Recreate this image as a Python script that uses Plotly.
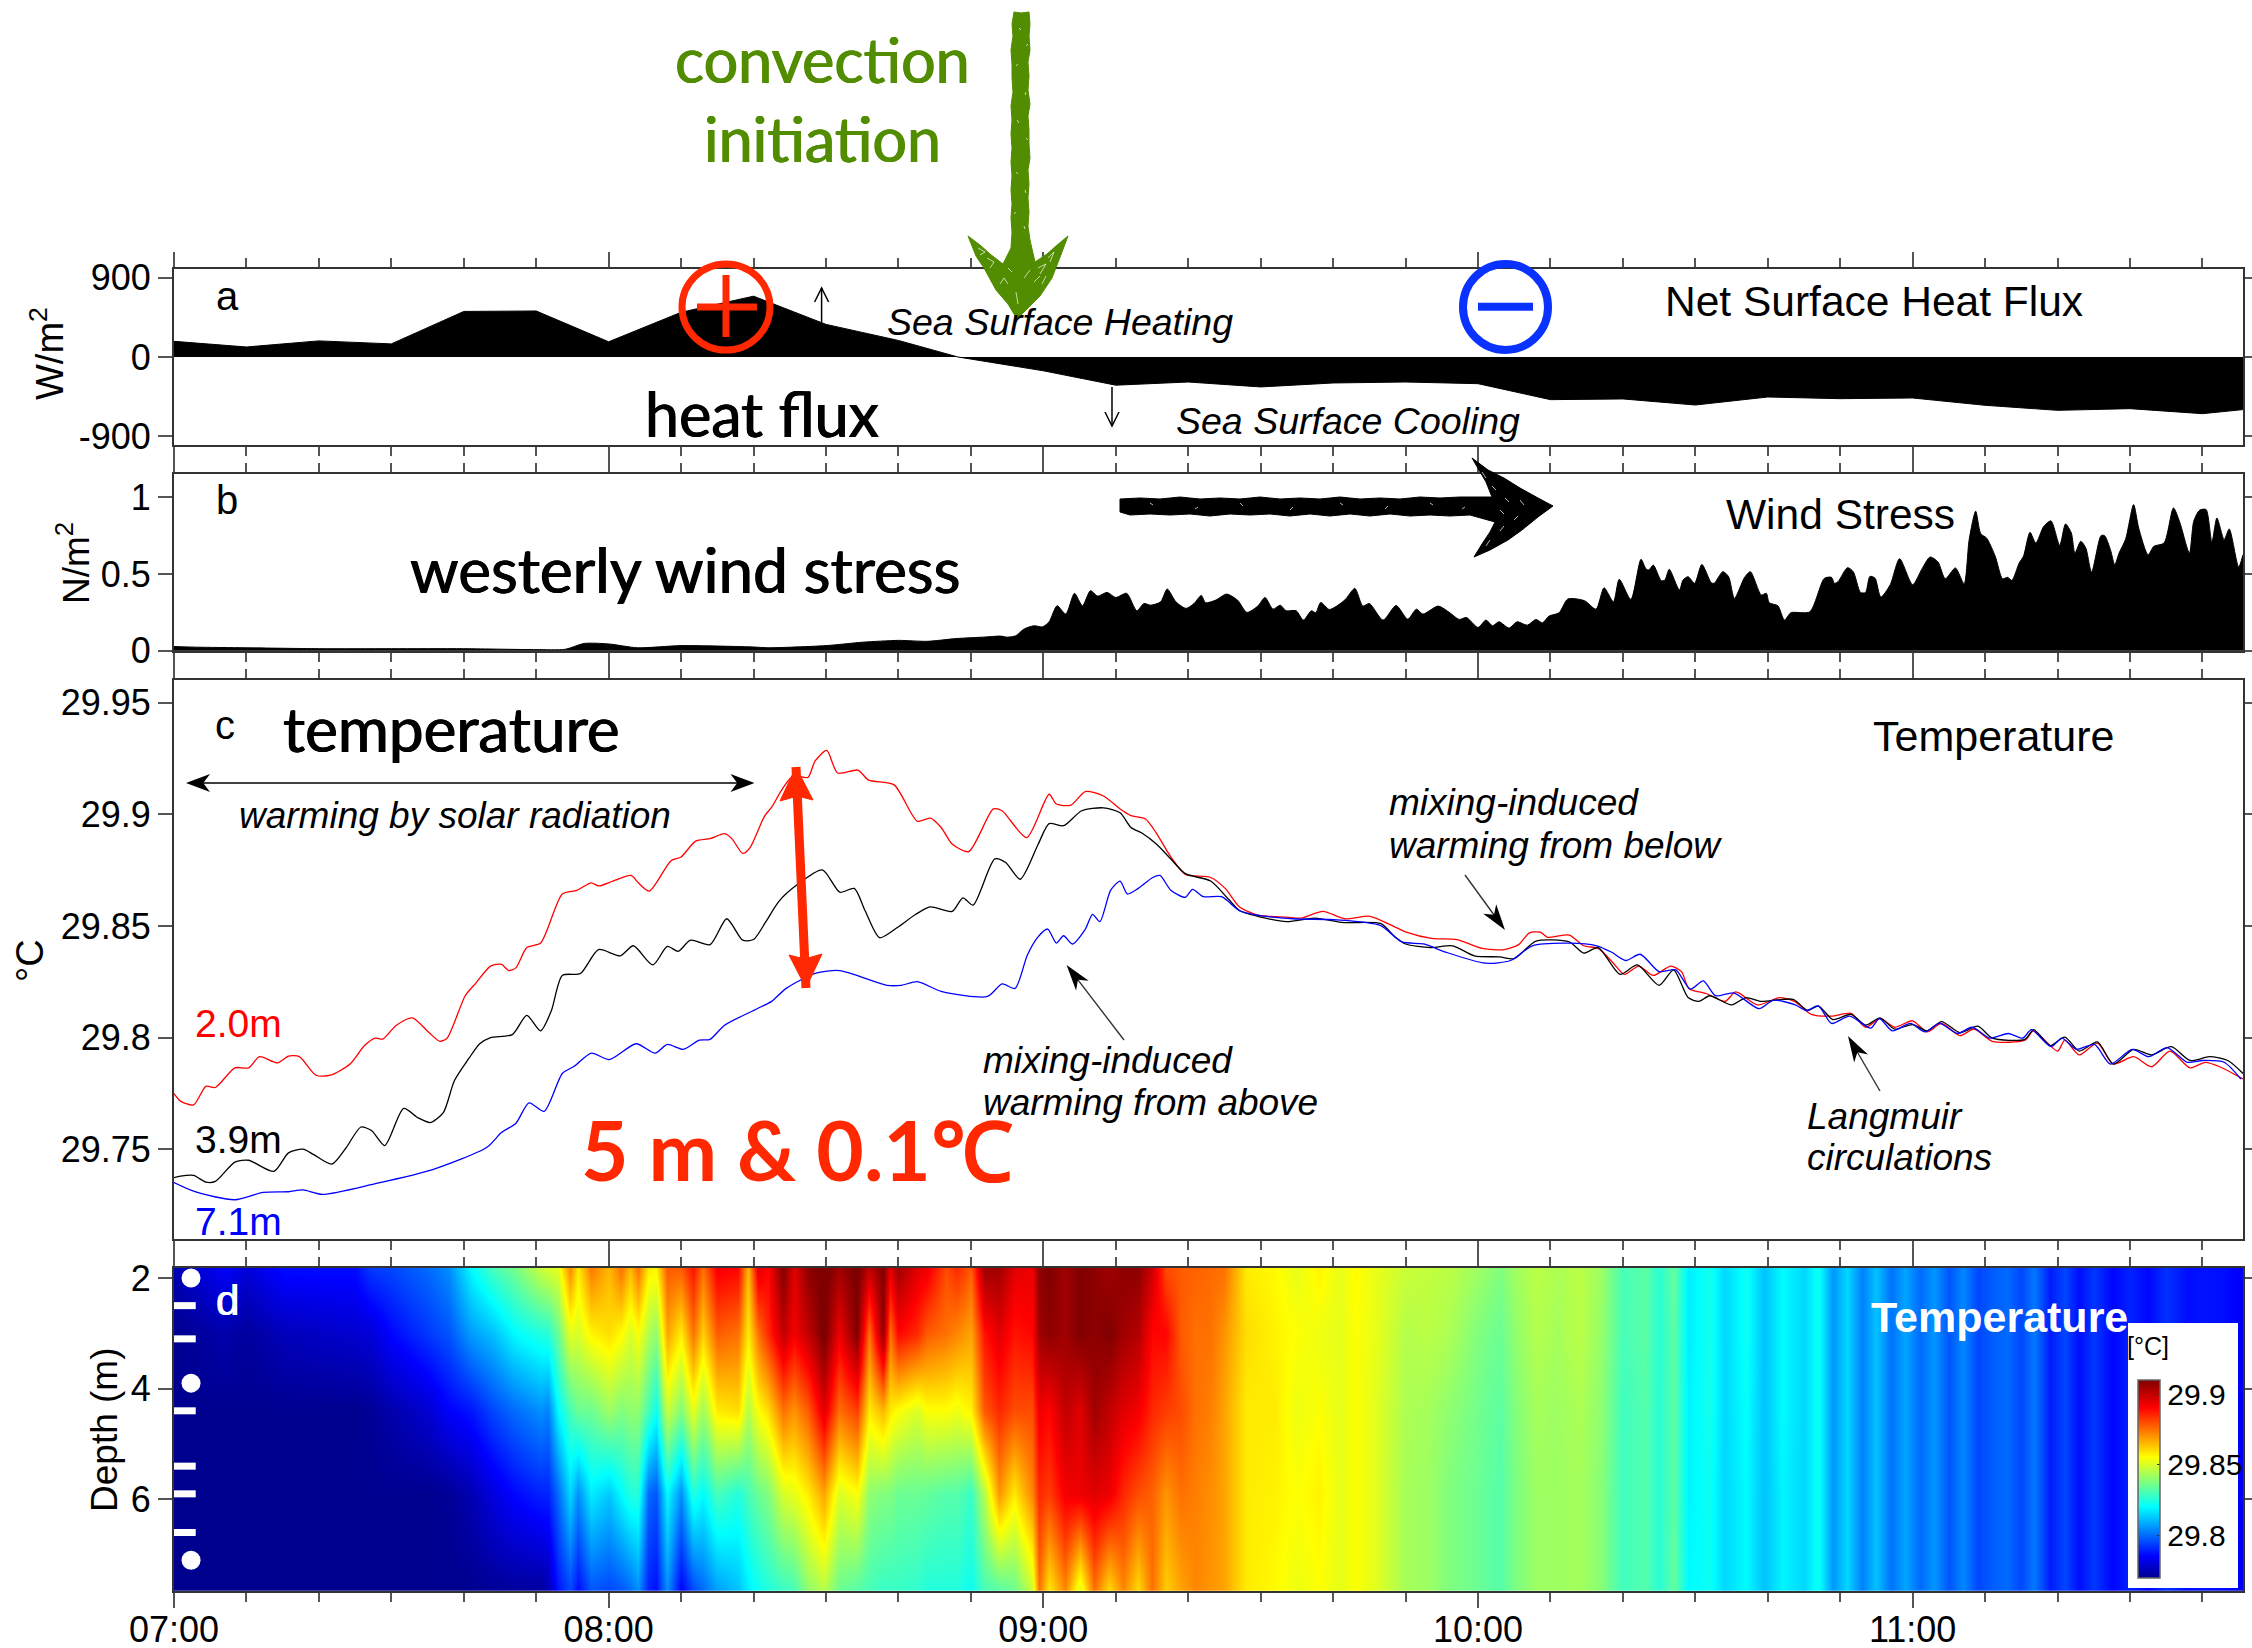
import plotly.graph_objects as go

W, H = 2252, 1648
L, R = 174, 2243
TMAX = 285.6

# ---------- data (time = minutes after 07:00) ----------
heat_flux_t = [0,10,20,30,40,50,60,70,80,90,100,108.2,120,130,140,150,160,170,180,190,200,210,220,230,240,250,260,270,280,285.6]
heat_flux = [177,113,182,148,516,521,172,506,689,369,187,0,-157,-320,-284,-340,-295,-284,-303,-484,-476,-545,-454,-473,-465,-548,-605,-586,-643,-597]

wind_t = [0,3,10,20,30,40,50,54,56.6,60,64,70,80,82,90,95,100,104,108,112,114.1,115,116.2,117.3,118.7,119.9,120.8,121.9,123.1,124.3,125.4,126.5,127.5,128.8,130,131.5,132.9,133.9,134.8,136.2,137.1,138.3,139.7,140.8,141.8,142.4,143.8,145.3,146.8,148.1,149.6,150.6,151.7,152.7,153.5,154.9,155.9,157,157.6,158.3,159.5,161.6,163,164.1,165,166.9,168.7,170.3,171.5,172.4,174.5,176.1,177.4,178.4,180,181.1,182,182.9,184.3,185.4,186.8,188,188.9,189.8,191.2,192.4,194.7,196.3,197.4,198.7,199.5,201.1,202.5,203.2,203.6,204.2,205.3,205.8,206.4,207.8,208.3,209,209.9,210.9,212.2,212.6,213.8,214.6,215.4,216.8,217.6,219.1,219.8,220.2,221.4,222.3,223.2,225.8,227.8,228.8,229.2,229.7,231,231.8,232.8,233.5,234.1,234.8,235.6,236.9,238.2,240,241.3,242.4,243.5,244.5,245.9,247.1,247.8,248.7,249.4,250.2,251.4,252.4,253.1,253.7,254.7,255.3,256.2,257,258.1,259.1,260.3,261.1,261.9,262.4,263.2,263.9,264.7,266,266.5,267.3,267.9,268.5,269.4,270.5,271.2,272.5,273.3,274.7,276,276.9,278.2,278.8,279.6,280.5,281.3,282,283,283.7,285,285.6]
wind = [.028,.024,.020,.014,.014,.014,.008,.010,.048,.045,.020,.034,.025,.020,.034,.056,.068,.062,.080,.090,.096,.089,.098,.141,.163,.156,.189,.293,.239,.374,.293,.391,.356,.380,.347,.374,.261,.308,.297,.319,.402,.319,.276,.308,.360,.313,.330,.369,.330,.250,.291,.347,.271,.297,.261,.261,.200,.261,.248,.315,.269,.330,.406,.291,.308,.200,.295,.206,.271,.239,.291,.248,.204,.217,.152,.200,.163,.189,.148,.189,.167,.204,.182,.226,.248,.337,.326,.271,.410,.319,.465,.334,.595,.532,.526,.558,.456,.460,.530,.395,.460,.482,.439,.562,.443,.439,.515,.482,.341,.478,.515,.363,.374,.313,.293,.200,.248,.254,.471,.478,.439,.450,.541,.515,.380,.380,.484,.473,.350,.430,.599,.430,.534,.610,.578,.469,.539,.436,.723,.908,.762,.734,.615,.469,.478,.458,.571,.615,.771,.701,.810,.845,.686,.825,.767,.636,.712,.669,.512,.749,.749,.658,.560,.636,.727,.951,.799,.625,.680,.701,.929,.832,.636,.843,.914,.919,.708,.864,.723,.793,.545,.625]

red_t = [0,.9,2.7,4.4,5.7,8.4,10.3,11.8,14.3,15.8,17.3,19.6,21.6,24.3,26.3,27.8,28.8,30.7,32.9,35.2,36.7,37.7,40.2,41.7,43.7,45.2,46.2,47.2,48.7,50.6,53.6,55.6,57.6,58.6,60.6,63.1,64.1,65.6,68.6,70,72,74,76,77,78.5,79.5,81.5,82.5,84,85.5,87.5,88.5,90.1,91.6,94.4,95.9,99.4,102.6,104.4,105.9,107.4,109.7,113.1,114.3,117.7,120.8,121.8,123.8,125.8,128.3,130.6,132.1,134.1,135.6,137.6,139.6,143.1,145.1,147.1,149.6,153.6,155.6,158.6,161.6,165.1,168.1,170.1,173.6,177.1,180.6,183.6,185.6,187.1,188.6,189.6,192.6,194.6,196.6,198.6,200.2,202.2,204.2,206.6,208.1,209.1,211.6,214.1,215.6,218.6,221.6,223.7,226,229,231.5,233.5,235.5,237.5,240,242,244,246.5,248.5,251,255.5,256.7,260,261,263,265.5,267.7,270.5,273,275.5,278.3,280.4,282.4,285.6]
red_temp = [29.7748,29.7715,29.7698,29.7781,29.7776,29.7864,29.7864,29.7914,29.7886,29.7917,29.7914,29.7831,29.7831,29.7881,29.7964,29.7997,29.7993,29.8055,29.8088,29.8022,29.7983,29.7997,29.8187,29.8245,29.8320,29.8328,29.8300,29.8312,29.8403,29.8423,29.8643,29.8659,29.8693,29.8679,29.8701,29.8726,29.8693,29.8656,29.8792,29.8809,29.8880,29.8891,29.8913,29.8891,29.8825,29.8850,29.8991,29.9032,29.9115,29.9173,29.9165,29.9239,29.9286,29.9185,29.9198,29.9153,29.9132,29.8969,29.8983,29.8941,29.8867,29.8833,29.9024,29.9016,29.8896,29.9090,29.9046,29.9041,29.9102,29.9082,29.9024,29.8994,29.8979,29.8916,29.8809,29.8731,29.8717,29.8668,29.8585,29.8548,29.8539,29.8535,29.8565,29.8532,29.8543,29.8502,29.8472,29.8444,29.8439,29.8399,29.8394,29.8416,29.8469,29.8472,29.8449,29.8459,29.8411,29.8399,29.8336,29.8283,29.8320,29.8278,29.8320,29.8295,29.8220,29.8196,29.8162,29.8204,29.8146,29.8179,29.8162,29.8104,29.8096,29.8108,29.8046,29.8085,29.8046,29.8075,29.8025,29.8063,29.8008,29.8038,29.7983,29.7988,29.8030,29.7939,29.7988,29.7922,29.7975,29.7881,29.7914,29.7869,29.7939,29.7864,29.7889,29.7869,29.7814]

black_t = [0,.9,2.7,4.4,5.7,8.4,10.3,13.8,15.8,17.8,19.3,21.8,23.8,25.8,27.3,29.1,31.7,33.7,35.4,37.2,38.7,40.7,42.2,43.7,46.7,48.7,50.6,52.1,53.6,56.1,58.6,61.6,63.4,66.1,68.1,69.6,71.3,74,76.3,78.5,80,81.7,83.5,86,89.5,91.9,93.9,95.4,97.4,99.9,102.4,104.4,107.4,108.9,110.3,113.3,114.8,116.8,119.3,120.8,122.8,125.3,128.3,130.6,132.1,133.6,135.6,137.6,139.6,143.1,145.6,147.1,149.6,153.6,157.5,161.5,166.6,168.5,170,173.5,176.5,179.5,183,185,188,192.6,194.6,196.6,199.6,202,205,207,209,210.5,212,215,217,219,223.5,225.5,227,229,231.5,233.5,235.5,237.5,240,242,244,246.5,249,251,255.5,256.7,259,261,263,265.5,267.7,270.5,273,275.7,278.3,281,283.5,285.6]
black_temp = [29.7372,29.7379,29.7382,29.7352,29.7355,29.7442,29.7450,29.7400,29.7483,29.7500,29.7475,29.7433,29.7508,29.7599,29.7582,29.7516,29.7682,29.7640,29.7619,29.7665,29.7806,29.7906,29.7972,29.8000,29.8013,29.8099,29.8030,29.8121,29.8278,29.8287,29.8394,29.8366,29.8411,29.8325,29.8408,29.8386,29.8436,29.8416,29.8532,29.8436,29.8439,29.8519,29.8610,29.8684,29.8751,29.8651,29.8668,29.8568,29.8447,29.8494,29.8552,29.8585,29.8565,29.8626,29.8593,29.8800,29.8784,29.8709,29.8867,29.8958,29.8949,29.9016,29.9029,29.9007,29.8941,29.8916,29.8867,29.8800,29.8734,29.8701,29.8618,29.8568,29.8543,29.8519,29.8535,29.8515,29.8510,29.8452,29.8419,29.8403,29.8411,29.8366,29.8361,29.8353,29.8432,29.8428,29.8378,29.8403,29.8283,29.8325,29.8234,29.8303,29.8179,29.8162,29.8187,29.8146,29.8179,29.8162,29.8171,29.8121,29.8141,29.8080,29.8104,29.8055,29.8088,29.8038,29.8058,29.8030,29.8071,29.8022,29.8051,29.7997,29.7992,29.8035,29.7964,29.8002,29.7939,29.7980,29.7881,29.7947,29.7922,29.7959,29.7897,29.7914,29.7897,29.7839]

blue_t = [0,2.9,8.4,12.3,15.8,17.8,20.5,27.8,35.7,43.2,45.2,47.2,49,51.1,53.6,55.3,57.6,60.1,63.8,66.4,68.1,70.3,72.5,74,76,80.5,82.5,84.5,88.5,91.9,98.4,100.4,102.6,105.9,112.3,114.3,116.1,117.8,119.3,120.6,121.8,122.8,124,125.8,126.8,127.8,129.3,130.6,131.6,133.1,135.1,136.1,137.6,139.6,140.6,142.1,144.6,147.1,149.6,154.5,160.5,166.5,169.5,172.5,175.5,181,184.5,187.5,192.6,196.4,198.4,200.4,202.4,205,207.3,209.3,211.1,212.8,215.3,218.8,220.8,223.8,225.3,227,228.8,231.3,234.2,235.4,237.2,239.7,241.7,243.7,246.2,248.2,250.7,253.2,255.2,256.4,259.1,260.6,262.6,265.1,267.3,270.3,272.6,275.1,277.9,280,283,285.3]
blue_temp = [29.7350,29.7309,29.7273,29.7306,29.7309,29.7317,29.7297,29.7345,29.7408,29.7508,29.7574,29.7616,29.7707,29.7669,29.7839,29.7872,29.7930,29.7901,29.7972,29.7930,29.7969,29.7947,29.7988,29.7992,29.8055,29.8129,29.8162,29.8220,29.8287,29.8300,29.8234,29.8234,29.8250,29.8207,29.8184,29.8240,29.8220,29.8370,29.8452,29.8486,29.8423,29.8456,29.8419,29.8486,29.8552,29.8519,29.8660,29.8701,29.8643,29.8668,29.8717,29.8726,29.8660,29.8628,29.8664,29.8631,29.8631,29.8568,29.8548,29.8532,29.8527,29.8502,29.8428,29.8419,29.8383,29.8333,29.8345,29.8411,29.8423,29.8411,29.8383,29.8345,29.8373,29.8295,29.8303,29.8217,29.8254,29.8187,29.8200,29.8129,29.8167,29.8146,29.8121,29.8141,29.8063,29.8096,29.8042,29.8085,29.8030,29.8063,29.8025,29.8063,29.8018,29.8046,29.7997,29.8018,29.7997,29.8035,29.7959,29.7997,29.7947,29.7969,29.7881,29.7947,29.7914,29.7955,29.7889,29.7897,29.7889,29.7814]

# heat map columns: thousandths of a degree above 29 degC
heat_depth = [1.82, 3.0, 4.4, 5.9, 7.65]
heat_t = [0,7,10,15,25,27,30,35,38,41,44,47,
          50.7,51.6,53,54.6,55.8,57.6,60,61.7,62.9,64,65.4,66.5,68.1,70,71.6,73,75,77.8,79.2,80.6,82,84,85.6,87.5,89.7,91.8,94.3,95.9,97.8,98.9,100,102.6,104,106.5,108.1,110,111.8,113.9,116,118.5,119.4,120.8,
          123,125,127,129,131,133,135,137,139,141,143,145,148,152,155,158,161,163,166,170,173,176,180,183,185,188,191,194,197,200,203,205,207,209,212,214,217,219.5,222,
          225,227,229,231,233,235,237,239,241,243,245,247,249,251,253,255,256.7,259,261,263,265,267.5,270,272.5,275,278,280,283,285.6]
heat_late = [815,822,806,815,803,812,801,808,800,806,797,804,795,798,800,795,802,789,795,787,793,786,790,786,792,787,788,787,784]
heat_r1 = [775,785,780,787,787,793,795,800,805,820,830,836,
           848,850,852,872,858,874,865,875,865,875,858,857,878,878,888,875,892,890,865,895,890,910,895,908,912,905,912,900,910,895,905,895,893,880,885,878,905,905,895,893,908,910,
           905,910,908,905,908,908,898,880,878,877,876,875,858,856,852,857,852,856,852,848,847,846,842,838,842,846,844,846,842,830,833,826,834,818,823,815,822,812,820] + heat_late
heat_r2 = [770,774,772,776,779,780,786,793,797,807,812,820,
           825,826,835,852,850,857,860,856,850,855,845,840,868,858,875,862,878,875,858,875,885,900,892,900,912,893,910,875,908,875,890,885,878,875,872,868,888,895,888,890,905,908,
           905,910,908,910,905,902,890,890,878,875,875,870,860,857,855,853,852,855,852,845,846,844,838,835,840,845,843,846,841,830,833,826,833,818,823,815,822,812,820] + heat_late
heat_r3 = [770,770,770,770,770,771,774,779,785,788,795,800,
           805,803,820,830,835,835,842,838,840,840,830,822,848,838,852,842,858,860,845,855,860,875,870,878,895,875,882,858,865,858,855,850,855,855,853,857,878,885,880,880,893,890,
           900,895,905,900,895,892,885,882,880,875,873,868,858,858,853,855,852,855,851,844,843,840,836,833,838,843,842,844,840,829,832,826,833,819,823,815,821,812,820] + heat_late
heat_r4 = [770,770,770,770,770,770,770,770,771,775,781,786,
           790,790,800,815,805,818,813,820,825,825,800,797,820,805,825,820,830,825,830,835,838,850,852,858,868,850,855,840,838,838,835,835,834,832,832,828,845,870,858,872,885,882,
           892,893,895,893,885,880,877,870,875,873,871,868,858,857,855,857,852,855,851,843,842,838,835,832,837,842,842,843,839,829,832,826,833,819,822,815,820,812,819] + heat_late
heat_r5 = [770,770,770,770,770,770,770,770,770,770,771,772,
           772,775,788,795,787,797,795,797,800,805,790,787,805,785,795,800,807,812,818,822,825,828,830,840,845,835,832,830,828,828,828,827,825,825,825,822,830,832,835,848,875,858,
           872,850,875,860,872,860,875,862,868,872,870,868,858,856,853,855,852,855,851,843,842,838,835,832,837,842,842,843,839,829,832,826,834,820,822,815,820,812,819] + heat_late
for row in (heat_r1, heat_r2, heat_r3, heat_r4, heat_r5):
    assert len(row) == len(heat_t), (len(row), len(heat_t))

sensor_dots = [2.0, 3.9, 7.1]
sensor_bars = [2.5, 3.1, 4.4, 5.4, 5.9, 6.6]

hour_ticks = [0, 60, 120, 180, 240]
hour_labels = ["07:00", "08:00", "09:00", "10:00", "11:00"]
minor_ticks = [10,20,30,40,50,70,80,90,100,110,130,140,150,160,170,190,200,210,220,230,250,260,270,280]

JET = [[0, "rgb(0,0,143)"], [0.11, "rgb(0,0,255)"], [0.36, "rgb(0,255,255)"],
       [0.61, "rgb(255,255,0)"], [0.86, "rgb(255,0,0)"], [1, "rgb(128,0,0)"]]

SANS = "Liberation Sans"
HUM = "Lato"
GREEN = "rgb(82,140,0)"
ORED = "rgb(255,40,0)"
TICK = "#555555"

fx = lambda x: x / W
fy = lambda y: 1 - y / H

fig = go.Figure()

panels = {"": (268.9, 445), "2": (474, 651), "3": (680.4, 1238.6), "4": (1268, 1590.7)}
yranges = {"": [-998, 998], "2": [-0.001, 1.15], "3": [29.7099, 29.96], "4": [7.65, 1.82]}
ytick = {"": ([-900, 0, 900], ["-900", "0", "900"]),
         "2": ([0, 0.5, 1], ["0", "0.5", "1"]),
         "3": ([29.75, 29.8, 29.85, 29.9, 29.95], ["29.75", "29.8", "29.85", "29.9", "29.95"]),
         "4": ([2, 4, 6], ["2", "4", "6"])}
for s, (t, b) in panels.items():
    fig.update_layout(**{
        "xaxis" + s: dict(domain=[fx(L), fx(R)], range=[0, TMAX], anchor="y" + s, tickmode="array",
                          tickvals=hour_ticks, ticktext=hour_labels, showticklabels=(s == "4"),
                          ticks="outside", ticklen=15, tickwidth=1.6, tickcolor=TICK, ticklabelstandoff=-9,
                          minor=dict(tickmode="array", tickvals=minor_ticks, ticks="outside", ticklen=9,
                                     tickwidth=1.6, tickcolor=TICK),
                          showline=True, linecolor="#333333", linewidth=2, mirror="allticks", showgrid=False,
                          zeroline=False, tickfont=dict(family=SANS, size=36, color="black")),
        "yaxis" + s: dict(domain=[fy(b), fy(t)], range=yranges[s], anchor="x" + s, tickmode="array",
                          tickvals=ytick[s][0], ticktext=ytick[s][1], ticks="outside", ticklen=14,
                          tickwidth=1.6, tickcolor=TICK, showline=True, linecolor="#333333", linewidth=2,
                          mirror="ticks", showgrid=False, zeroline=False,
                          tickfont=dict(family=SANS, size=36, color="black")),
    })

fig.add_trace(go.Scatter(x=heat_flux_t, y=heat_flux, mode="lines", line=dict(color="black", width=1),
                         fill="tozeroy", fillcolor="black", xaxis="x", yaxis="y"))
fig.add_trace(go.Scatter(x=wind_t, y=wind, mode="lines", line=dict(color="black", width=1, shape="spline", smoothing=0.7),
                         fill="tozeroy", fillcolor="black", xaxis="x2", yaxis="y2"))
for tt, vv, col in ((red_t, red_temp, "rgb(255,0,0)"), (black_t, black_temp, "black"), (blue_t, blue_temp, "rgb(0,0,255)")):
    assert len(tt) == len(vv), (col, len(tt), len(vv))
    fig.add_trace(go.Scatter(x=tt, y=vv, mode="lines", line=dict(color=col, width=1.3, shape="spline", smoothing=0.7),
                             xaxis="x3", yaxis="y3"))

z_rows = [[29 + v / 1000 for v in r] for r in (heat_r1, heat_r2, heat_r3, heat_r4, heat_r5)]
fig.add_trace(go.Heatmap(x=heat_t, y=heat_depth, z=z_rows, colorscale=JET, zmin=29.77, zmax=29.91, zsmooth="best",
                         xaxis="x4", yaxis="y4",
                         colorbar=dict(x=fx(2137.7), xanchor="left", xpad=0, ypad=0, y=fy(1578), yanchor="bottom",
                                       len=198, lenmode="pixels", thickness=22, thicknessmode="pixels",
                                       outlinecolor="#666666", outlinewidth=1.5, ticks="inside", ticklen=3,
                                       tickcolor="#333333", tickmode="array", tickvals=[29.8, 29.85, 29.9],
                                       ticktext=["29.8", "29.85", "29.9"], ticklabelposition="outside",
                                       tickfont=dict(family=SANS, size=30, color="black"))))
bx, by = [], []
for d in sensor_bars:
    bx += [0, 3.0, None]
    by += [d, d, None]
fig.add_trace(go.Scatter(x=bx, y=by, mode="lines", line=dict(color="white", width=7), xaxis="x4", yaxis="y4"))
fig.add_trace(go.Scatter(x=[2.35] * 3, y=sensor_dots, mode="markers", marker=dict(color="white", size=19),
                         xaxis="x4", yaxis="y4"))

shapes, ann = [], []

def text(x, y, s, size, color="black", family=SANS, anchor="center", thick=0):
    font = dict(family=family, size=size, color=color)
    if thick:
        font["shadow"] = f"{thick}px 0 0 {color}, -{thick}px 0 0 {color}"
    ann.append(dict(xref="paper", yref="paper", x=fx(x), y=fy(y), text=s, showarrow=False, xanchor=anchor,
                    yanchor="middle", font=font))

def pts(points):
    return " L ".join(f"{fx(x):.5f} {fy(y):.5f}" for x, y in points)

def poly(points, fill, line=None, lw=0, closed=True):
    p = "M " + pts(points) + (" Z" if closed else "")
    d = dict(type="path", xref="paper", yref="paper", path=p, layer="above",
             line=dict(color=line or "rgba(0,0,0,0)", width=lw))
    if fill:
        d["fillcolor"] = fill
    shapes.append(d)

def strokes(segments, color, lw=1.0):
    p = " ".join("M " + pts(seg) for seg in segments)
    shapes.append(dict(type="path", xref="paper", yref="paper", path=p, layer="above", line=dict(color=color, width=lw)))

def unit(a, b):
    dx, dy = b[0] - a[0], b[1] - a[1]
    n = (dx * dx + dy * dy) ** 0.5
    return dx / n, dy / n

def stealth(tail, tip, length=24, half=9, notch=0.72, color="black", lw=1.4, linecolor="#333333"):
    ux, uy = unit(tail, tip)
    poly([tail, (tip[0] - ux * length * 0.5, tip[1] - uy * length * 0.5)], None, linecolor, lw, closed=False)
    px_, py_ = -uy, ux
    poly([tip, (tip[0] - ux * length + px_ * half, tip[1] - uy * length + py_ * half),
          (tip[0] - ux * length * notch, tip[1] - uy * length * notch),
          (tip[0] - ux * length - px_ * half, tip[1] - uy * length - py_ * half)], color)

def open_arrow(tail, tip, length=14, half=7):
    ux, uy = unit(tail, tip)
    px_, py_ = -uy, ux
    poly([tail, tip], None, "black", 1.5, closed=False)
    poly([(tip[0] - ux * length + px_ * half, tip[1] - uy * length + py_ * half), tip,
          (tip[0] - ux * length - px_ * half, tip[1] - uy * length - py_ * half)], None, "black", 1.5, closed=False)

def vtext(x, y, s, size=36, family=SANS):
    ann.append(dict(xref="paper", yref="paper", x=fx(x), y=fy(y), text=s, showarrow=False, textangle=-90,
                    xanchor="center", yanchor="middle", font=dict(family=family, size=size, color="black")))
vtext(47, 354, "W/m<sup>2</sup>", 38)
vtext(73, 563, "N/m<sup>2</sup>", 37)
vtext(30, 960, "°C", 38)
vtext(104, 1430, "Depth (m)", 37)

text(227, 296, "a", 40)
text(227, 500, "b", 40)
text(225, 725, "c", 40)
text(227, 1300, "d", 42, "white", thick=0.5)

text(822, 60, "convection", 61, GREEN, HUM, thick=0.6)
text(822, 138, "initiation", 61, GREEN, HUM, thick=0.6)
text(762, 414, "heat flux", 61, "black", HUM, thick=0.6)
text(685, 569, "westerly wind stress", 62, "black", HUM, thick=0.6)
text(451, 728, "temperature", 62, "black", HUM, thick=0.6)
text(797, 1149, "<b>5 m &amp; 0.1℃</b>", 82, ORED, HUM)

text(1060, 322, "<i>Sea Surface Heating</i>", 37.5)
text(1348, 421, "<i>Sea Surface Cooling</i>", 37.5)
text(1874, 302, "Net Surface Heat Flux", 42.5)
text(1840, 514, "Wind Stress", 42.5)
text(1993, 736, "Temperature", 43)
text(1999, 1317, "<b>Temperature</b>", 43, "white")
text(455, 815, "<i>warming by solar radiation</i>", 37)
text(1387, 803, "<i>mixing-induced</i>", 37, anchor="left")
text(1387, 845, "<i>warming from below</i>", 37, anchor="left")
text(981, 1060, "<i>mixing-induced</i>", 37, anchor="left")
text(981, 1102, "<i>warming from above</i>", 37, anchor="left")
text(1805, 1116, "<i>Langmuir</i>", 37, anchor="left")
text(1805, 1157, "<i>circulations</i>", 37, anchor="left")
text(193, 1024, "2.0m", 39, "rgb(255,0,0)", anchor="left")
text(193, 1139, "3.9m", 39, "black", anchor="left")
text(193, 1221, "7.1m", 39, "rgb(0,0,255)", anchor="left")
text(2148, 1346, "[°C]", 25)

shapes.append(dict(type="rect", xref="paper", yref="paper", x0=fx(2128), x1=fx(2238), y0=fy(1588), y1=fy(1323),
                   fillcolor="white", line=dict(width=0), layer="above"))

shapes.append(dict(type="circle", xref="paper", yref="paper", x0=fx(682), x1=fx(770), y0=fy(350), y1=fy(264),
                   line=dict(color=ORED, width=7), layer="above"))
shapes.append(dict(type="line", xref="paper", yref="paper", x0=fx(697), x1=fx(757), y0=fy(307), y1=fy(307),
                   line=dict(color=ORED, width=7), layer="above"))
shapes.append(dict(type="line", xref="paper", yref="paper", x0=fx(726), x1=fx(726), y0=fy(275), y1=fy(337),
                   line=dict(color=ORED, width=7), layer="above"))
shapes.append(dict(type="circle", xref="paper", yref="paper", x0=fx(1463), x1=fx(1548), y0=fy(350), y1=fy(264),
                   line=dict(color="rgb(10,50,255)", width=8), layer="above"))
shapes.append(dict(type="line", xref="paper", yref="paper", x0=fx(1478), x1=fx(1533), y0=fy(306.7), y1=fy(306.7),
                   line=dict(color="rgb(10,50,255)", width=8), layer="above"))

# green convection arrow: rough hand-drawn outline with small gaps
poly([(1014, 12), (1021, 13), (1029, 12), (1030, 24), (1029, 36), (1030, 50), (1028, 62), (1029, 76), (1028, 90), (1030, 104),
      (1028, 116), (1029, 130), (1029, 144), (1030, 158), (1028, 170), (1029, 184), (1028, 198), (1029, 212), (1028, 226),
      (1030, 240), (1035, 262), (1047, 254), (1056, 246), (1068, 236), (1062, 252), (1052, 278), (1040, 296),
      (1030, 306), (1017, 319), (1008, 304), (996, 290), (984, 268), (976, 256), (968, 236), (980, 245), (990, 254), (1003, 264),
      (1011, 248), (1012, 232), (1011, 218), (1012, 204), (1011, 190), (1012, 176), (1011, 162), (1012, 148), (1011, 134),
      (1012, 120), (1011, 106), (1013, 92), (1012, 78), (1012, 64), (1011, 50), (1013, 36), (1012, 24)], GREEN, GREEN, 1)
strokes([[(978, 248), (985, 252), (980, 255)], [(987, 258), (994, 262), (990, 268)], [(1048, 258), (1054, 252), (1050, 262)],
         [(1038, 268), (1046, 264), (1040, 274)], [(1034, 282), (1040, 276)], [(1000, 284), (1004, 278), (1008, 284)],
         [(1016, 292), (1018, 304)], [(1024, 278), (1030, 270)], [(1008, 268), (1012, 272)], [(1046, 276), (1042, 284)],
         [(1019, 28), (1021, 30)], [(1026, 46), (1028, 44)], [(1016, 66), (1018, 64)], [(1026, 92), (1025, 95)],
         [(1017, 120), (1019, 123)], [(1026, 138), (1028, 140)], [(1016, 172), (1018, 174)], [(1025, 190), (1026, 193)],
         [(1014, 214), (1016, 212)], [(1024, 226), (1025, 229)]], "rgba(255,255,255,0.75)", 0.9)

# black wind arrow: rough hand-drawn outline
poly([(1120, 499), (1140, 498), (1160, 499), (1180, 497), (1200, 499), (1220, 498), (1240, 499), (1260, 497), (1280, 499),
      (1300, 498), (1320, 499), (1340, 497), (1360, 499), (1380, 498), (1400, 499), (1420, 497), (1440, 498), (1460, 497),
      (1492, 497), (1486, 482), (1479, 470), (1472, 458), (1488, 470), (1504, 478), (1520, 488), (1538, 498), (1553, 506),
      (1538, 517), (1522, 530), (1508, 540), (1490, 550), (1474, 557), (1482, 544), (1490, 532), (1495, 522),
      (1470, 515), (1450, 516), (1430, 515), (1410, 516), (1390, 514), (1370, 516), (1350, 514), (1330, 516), (1310, 514),
      (1290, 516), (1270, 514), (1250, 515), (1230, 514), (1210, 516), (1190, 514), (1170, 515), (1150, 514), (1130, 515),
      (1120, 512)], "black", "black", 1)
strokes([[(1150, 503), (1153, 505)], [(1195, 509), (1198, 507)], [(1240, 503), (1243, 506)], [(1290, 510), (1293, 507)],
         [(1340, 503), (1343, 505)], [(1385, 509), (1388, 506)], [(1430, 503), (1433, 505)], [(1462, 509), (1465, 507)],
         [(1482, 472), (1486, 478)], [(1492, 486), (1496, 490)], [(1505, 498), (1509, 502)], [(1520, 500), (1524, 505)],
         [(1500, 510), (1504, 514)], [(1504, 526), (1500, 531)], [(1490, 540), (1486, 546)], [(1514, 520), (1518, 516)]],
        "rgba(255,255,255,0.8)", 0.9)

poly([(796, 767), (806, 988)], None, ORED, 9, closed=False)
poly([(796, 767), (813, 800), (797.5, 796), (780, 801)], ORED, ORED, 1)
poly([(806, 988), (789, 955), (804.5, 959), (822, 954)], ORED, ORED, 1)

open_arrow((821.6, 324), (821.6, 288))
open_arrow((1112, 387), (1112, 426))
stealth((470, 783), (186, 783), color="black", lw=1.6, linecolor="black")
stealth((470, 783), (754.5, 783), color="black", lw=1.6, linecolor="black")
stealth((1124, 1040), (1066.6, 965), length=26, half=8)
stealth((1465, 875), (1505, 930), length=26, half=8)
stealth((1880, 1091), (1848, 1036), length=26, half=8)

fig.update_layout(width=W, height=H, autosize=False, margin=dict(l=0, r=0, t=0, b=0, autoexpand=False),
                  paper_bgcolor="white", plot_bgcolor="white", showlegend=False, shapes=shapes, annotations=ann)

fig.write_html("out.html", config={"displayModeBar": False},
               post_script="document.body.style.margin='0';document.documentElement.style.overflow='hidden';")
